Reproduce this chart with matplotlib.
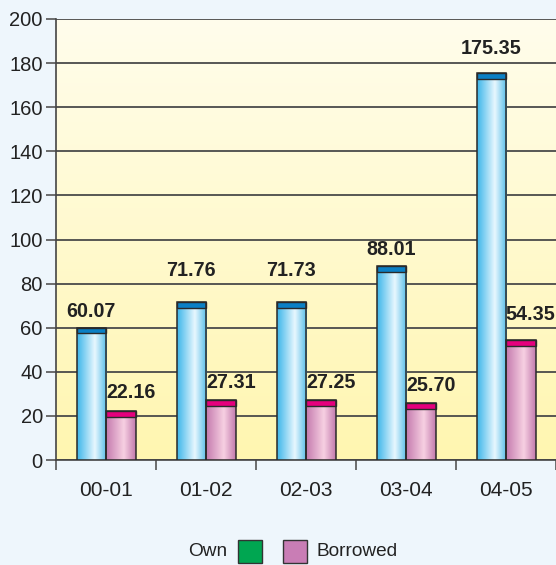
import numpy as np
import matplotlib.pyplot as plt
from matplotlib.patches import Rectangle
from matplotlib.colors import LinearSegmentedColormap

plt.rcParams['font.family'] = ['Liberation Sans', 'DejaVu Sans']

years = ['00-01', '01-02', '02-03', '03-04', '04-05']
own = [60.07, 71.76, 71.73, 88.01, 175.35]
borrowed = [22.16, 27.31, 27.25, 25.70, 54.35]

# gap (px) between bar top and its value label
own_gap = [7, 22, 22, 7, 15]
bor_gap = [9, 8, 8, 8, 16]

width = 0.295
cap = 2.6

blue_cm = LinearSegmentedColormap.from_list(
    'blue_cyl', [(0, '#3db6ea'), (0.6, '#e8f7fe'), (1, '#55bde9')])
pink_cm = LinearSegmentedColormap.from_list(
    'pink_cyl', [(0, '#c47aae'), (0.6, '#f7d0e2'), (1, '#c27aad')])
bg_cm = LinearSegmentedColormap.from_list('bg', ['#fff6b0', '#fffdec'])

fig = plt.figure(figsize=(5.56, 5.65), dpi=100)
fig.patch.set_facecolor('#eef6fc')
ax = fig.add_axes([56 / 556, 105 / 565, 500 / 556, 441 / 565])
ax.set_facecolor('none')

x = np.arange(len(years))
ax.set_xlim(-0.5, len(years) - 0.5)
ax.set_ylim(0, 200)

# background gradient of the plot area
grad = np.linspace(0, 1, 256).reshape(-1, 1)
ax.imshow(grad, extent=[-0.5, len(years) - 0.5, 0, 200], origin='lower',
          aspect='auto', cmap=bg_cm, zorder=0)

ax.yaxis.grid(True, color='#4a4a4a', linewidth=1.3, zorder=1)
ax.set_axisbelow(True)

hgrad = np.linspace(0, 1, 128).reshape(1, -1)


def draw_bar(x0, h, cmap, capcolor):
    ax.imshow(hgrad, extent=[x0, x0 + width, 0, h - cap], aspect='auto',
              cmap=cmap, zorder=3)
    ax.add_patch(Rectangle((x0, h - cap), width, cap, facecolor=capcolor,
                           edgecolor='#2a2a2a', linewidth=1, zorder=4))
    ax.add_patch(Rectangle((x0, 0), width, h, facecolor='none',
                           edgecolor='#2a2a2a', linewidth=1.1, zorder=4))


for i in range(len(years)):
    draw_bar(x[i] - width, own[i], blue_cm, '#0b80c5')
    draw_bar(x[i], borrowed[i], pink_cm, '#e5007d')
    ax.annotate(f'{own[i]:.2f}', (x[i] - width / 2, own[i]),
                xytext=(0, own_gap[i]), textcoords='offset pixels',
                ha='center', va='bottom', fontsize=14.2, fontweight='bold',
                color='#222222', zorder=5)
    ax.annotate(f'{borrowed[i]:.2f}', (x[i] + width / 2, borrowed[i]),
                xytext=(10, bor_gap[i]), textcoords='offset pixels',
                ha='center', va='bottom', fontsize=14.2, fontweight='bold',
                color='#222222', zorder=5)

ax.set_xticks(x)
ax.set_xticklabels(years)
ax.set_xticks(np.arange(-0.5, len(years)), minor=True)
ax.tick_params(axis='x', which='major', length=0, pad=15, labelsize=15,
               colors='#222222')
ax.tick_params(axis='x', which='minor', length=7.5, width=1.2, color='#555555')
ax.set_yticks(np.arange(0, 201, 20))
ax.tick_params(axis='y', length=7.5, width=1.2, pad=2, labelsize=14.5,
               color='#555555', labelcolor='#222222')

for s in ['top', 'right']:
    ax.spines[s].set_visible(False)
ax.spines['left'].set_color('#444444')
ax.spines['bottom'].set_color('#444444')
ax.spines['left'].set_linewidth(1.2)
ax.spines['bottom'].set_linewidth(1.2)

# legend drawn in figure pixels
W, H = 556, 565
fig.text(227 / W, 1 - 552 / H, 'Own', ha='right', va='center', fontsize=13.7,
         color='#222222')
fig.patches.append(Rectangle((238 / W, 1 - 563 / H), 24 / W, 23 / H,
                             transform=fig.transFigure, facecolor='#00a651',
                             edgecolor='#333333', linewidth=1))
fig.patches.append(Rectangle((283 / W, 1 - 563 / H), 24 / W, 23 / H,
                             transform=fig.transFigure, facecolor='#c97db5',
                             edgecolor='#333333', linewidth=1))
fig.text(317 / W, 1 - 552 / H, 'Borrowed', ha='left', va='center',
         fontsize=13.7, color='#222222')

fig.savefig('out.png', dpi=100, facecolor=fig.get_facecolor())
